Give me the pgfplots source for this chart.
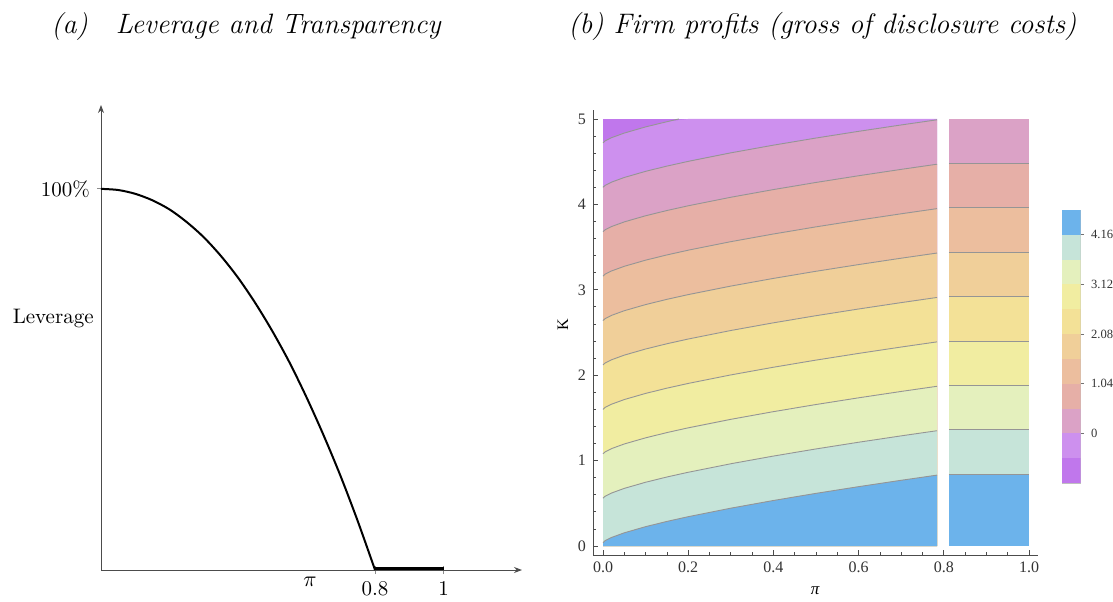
\documentclass[border=0pt]{standalone}
\usepackage{fontspec}
\usepackage{pgfplots}
\pgfplotsset{compat=1.18}
\usepackage{pgfplotstable}
\usetikzlibrary{arrows.meta}
\newfontfamily\tms{Liberation Serif}

\definecolor{c1}{HTML}{C077EC}
\definecolor{c2}{HTML}{CD90EE}
\definecolor{c3}{HTML}{DBA2C6}
\definecolor{c4}{HTML}{E6AFA7}
\definecolor{c5}{HTML}{ECBE9E}
\definecolor{c6}{HTML}{F0CF99}
\definecolor{c7}{HTML}{F3E197}
\definecolor{c8}{HTML}{F1EDA1}
\definecolor{c9}{HTML}{E4F0BD}
\definecolor{c10}{HTML}{C6E4D9}
\definecolor{c11}{HTML}{6CB3EB}
\definecolor{cline}{HTML}{959595}

% shape of the contour lines (shift of K along pi)
\pgfplotstableread{
p g
0 0
0.005 0.0230
0.02 0.0606
0.05 0.1151
0.1 0.1869
0.15 0.2483
0.2 0.3037
0.3 0.4034
0.4 0.4934
0.5 0.5768
0.6 0.6553
0.7 0.7300
0.784 0.7903
}\contourshape

\begin{document}
\begin{tikzpicture}
\useasboundingbox (0,0) rectangle (556.5pt,300.5pt);

% ---------------- titles
\node[anchor=base west, inner sep=0pt, font=\fontsize{14}{16}\selectfont\itshape] at (25.5pt,283.6pt) {(a)\quad Leverage and Transparency};
\node[anchor=base west, inner sep=0pt, font=\fontsize{14.1}{16}\selectfont\itshape] at (284pt,283.6pt) {(b) Firm profits (gross of disclosure costs)};

% ---------------- panel (a)
\begin{axis}[
  at={(50.5pt,15.5pt)}, anchor=south west, scale only axis,
  width=210.5pt, height=232.5pt,
  xmin=0, xmax=1.229, ymin=0, ymax=1.22,
  axis lines=left,
  axis line style={black!70, line width=0.5pt, -{Stealth[length=4pt,width=3pt]}},
  xtick={0.8,1}, xticklabels={0.8,1},
  extra x ticks={0.61}, extra x tick labels={$\pi$},
  extra x tick style={major tick length=0pt},
  ytick={1}, yticklabels={100\%},
  tick align=center, major tick length=4pt,
  tick style={black!45, line width=0.5pt},
  ticklabel style={font=\fontsize{10.5}{12}\selectfont},
  clip=false,
]
\addplot[black, line width=1pt, smooth] coordinates {
(0,1) (0.05,0.997) (0.1,0.987) (0.15,0.970) (0.2,0.946) (0.25,0.913)
(0.3,0.873) (0.35,0.824) (0.4,0.767) (0.45,0.701) (0.5,0.627)
(0.55,0.545) (0.6,0.453) (0.65,0.353) (0.7,0.245) (0.75,0.127) (0.8,0)
};
\addplot[black, line width=1.4pt] coordinates {(0.8,0.004) (1,0.004)};
\node[anchor=east, inner sep=0pt, font=\fontsize{10.5}{12}\selectfont] at (axis cs:0,0.659) [xshift=-3.5pt] {Leverage};
\end{axis}

% ---------------- panel (b)
\begin{axis}[
  at={(296.5pt,23pt)}, anchor=south west, scale only axis,
  width=222.5pt, height=222.5pt,
  xmin=-0.0235, xmax=1.0211, ymin=-0.105, ymax=5.105,
  axis x line*=bottom, axis y line*=left,
  axis line style={black!70, line width=0.5pt},
  tick align=inside,
  xtick={0,0.2,0.4,0.6,0.8,1}, xticklabels={0.0,0.2,0.4,0.6,0.8,1.0},
  minor x tick num=3,
  ytick={0,1,2,3,4,5}, yticklabels={0,1,2,3,4,5},
  minor y tick num=4,
  major tick length=2.6pt, minor tick length=1.5pt,
  tick style={black!70, line width=0.4pt},
  ticklabel style={font=\tms\fontsize{8}{9}\selectfont, text=black!80},
]
% left region (pi < 0.8): layered fills
\addplot[fill=c1, draw=none] coordinates {(0,0) (0.784,0) (0.784,5) (0,5)};
\addplot[fill=c2, draw=none] table[x=p, y expr={min(\thisrow{g}+4.72,5)}] {\contourshape} \closedcycle;
\addplot[fill=c3, draw=none] table[x=p, y expr={\thisrow{g}+4.20}] {\contourshape} \closedcycle;
\addplot[fill=c4, draw=none] table[x=p, y expr={\thisrow{g}+3.68}] {\contourshape} \closedcycle;
\addplot[fill=c5, draw=none] table[x=p, y expr={\thisrow{g}+3.16}] {\contourshape} \closedcycle;
\addplot[fill=c6, draw=none] table[x=p, y expr={\thisrow{g}+2.64}] {\contourshape} \closedcycle;
\addplot[fill=c7, draw=none] table[x=p, y expr={\thisrow{g}+2.12}] {\contourshape} \closedcycle;
\addplot[fill=c8, draw=none] table[x=p, y expr={\thisrow{g}+1.60}] {\contourshape} \closedcycle;
\addplot[fill=c9, draw=none] table[x=p, y expr={\thisrow{g}+1.08}] {\contourshape} \closedcycle;
\addplot[fill=c10, draw=none] table[x=p, y expr={\thisrow{g}+0.56}] {\contourshape} \closedcycle;
\addplot[fill=c11, draw=none] table[x=p, y expr={\thisrow{g}+0.04}] {\contourshape} \closedcycle;
% contour lines
\addplot[cline, line width=0.45pt] coordinates {(0,4.72) (0.005,4.743) (0.02,4.781) (0.05,4.835) (0.1,4.907) (0.15,4.968) (0.178,5)};
\addplot[cline, line width=0.45pt] table[x=p, y expr={\thisrow{g}+4.20}] {\contourshape};
\addplot[cline, line width=0.45pt] table[x=p, y expr={\thisrow{g}+3.68}] {\contourshape};
\addplot[cline, line width=0.45pt] table[x=p, y expr={\thisrow{g}+3.16}] {\contourshape};
\addplot[cline, line width=0.45pt] table[x=p, y expr={\thisrow{g}+2.64}] {\contourshape};
\addplot[cline, line width=0.45pt] table[x=p, y expr={\thisrow{g}+2.12}] {\contourshape};
\addplot[cline, line width=0.45pt] table[x=p, y expr={\thisrow{g}+1.60}] {\contourshape};
\addplot[cline, line width=0.45pt] table[x=p, y expr={\thisrow{g}+1.08}] {\contourshape};
\addplot[cline, line width=0.45pt] table[x=p, y expr={\thisrow{g}+0.56}] {\contourshape};
\addplot[cline, line width=0.45pt] table[x=p, y expr={\thisrow{g}+0.04}] {\contourshape};
% right region (pi > 0.8): flat bands
\addplot[fill=c3, draw=none] coordinates {(0.812,0) (1,0) (1,5) (0.812,5)};
\addplot[fill=c4, draw=none] coordinates {(0.812,0) (1,0) (1,4.48) (0.812,4.48)};
\addplot[fill=c5, draw=none] coordinates {(0.812,0) (1,0) (1,3.96) (0.812,3.96)};
\addplot[fill=c6, draw=none] coordinates {(0.812,0) (1,0) (1,3.44) (0.812,3.44)};
\addplot[fill=c7, draw=none] coordinates {(0.812,0) (1,0) (1,2.92) (0.812,2.92)};
\addplot[fill=c8, draw=none] coordinates {(0.812,0) (1,0) (1,2.40) (0.812,2.40)};
\addplot[fill=c9, draw=none] coordinates {(0.812,0) (1,0) (1,1.88) (0.812,1.88)};
\addplot[fill=c10, draw=none] coordinates {(0.812,0) (1,0) (1,1.36) (0.812,1.36)};
\addplot[fill=c11, draw=none] coordinates {(0.812,0) (1,0) (1,0.84) (0.812,0.84)};
\addplot[cline, line width=0.45pt] coordinates {(0.812,4.48) (1,4.48)};
\addplot[cline, line width=0.45pt] coordinates {(0.812,3.96) (1,3.96)};
\addplot[cline, line width=0.45pt] coordinates {(0.812,3.44) (1,3.44)};
\addplot[cline, line width=0.45pt] coordinates {(0.812,2.92) (1,2.92)};
\addplot[cline, line width=0.45pt] coordinates {(0.812,2.40) (1,2.40)};
\addplot[cline, line width=0.45pt] coordinates {(0.812,1.88) (1,1.88)};
\addplot[cline, line width=0.45pt] coordinates {(0.812,1.36) (1,1.36)};
\addplot[cline, line width=0.45pt] coordinates {(0.812,0.84) (1,0.84)};
\end{axis}

% axis labels of panel (b)
\node[rotate=90, inner sep=0pt, font=\tms\fontsize{8}{9}\selectfont] at (281.5pt,138pt) {K};
\node[inner sep=0pt, font=\tms\itshape\fontsize{8.5}{9}\selectfont] at (407.5pt,5pt) {π};

% ---------------- colour bar
\begin{axis}[
  at={(531pt,59pt)}, anchor=south west, scale only axis,
  width=9.25pt, height=136.5pt,
  xmin=0, xmax=1, ymin=-1.04, ymax=4.68,
  xtick=\empty,
  ytick={0,1.04,2.08,3.12,4.16}, yticklabels={0,1.04,2.08,3.12,4.16},
  ytick pos=right, yticklabel pos=right,
  tick align=outside, major tick length=1.8pt,
  tick style={black!55, line width=0.4pt},
  axis line style={black!25, line width=0.4pt},
  ticklabel style={font=\tms\fontsize{6.3}{7}\selectfont, text=black!80},
]
\addplot[fill=c1, draw=none] coordinates {(0,-1.04) (1,-1.04) (1,-0.52) (0,-0.52)};
\addplot[fill=c2, draw=none] coordinates {(0,-0.52) (1,-0.52) (1,0) (0,0)};
\addplot[fill=c3, draw=none] coordinates {(0,0) (1,0) (1,0.52) (0,0.52)};
\addplot[fill=c4, draw=none] coordinates {(0,0.52) (1,0.52) (1,1.04) (0,1.04)};
\addplot[fill=c5, draw=none] coordinates {(0,1.04) (1,1.04) (1,1.56) (0,1.56)};
\addplot[fill=c6, draw=none] coordinates {(0,1.56) (1,1.56) (1,2.08) (0,2.08)};
\addplot[fill=c7, draw=none] coordinates {(0,2.08) (1,2.08) (1,2.60) (0,2.60)};
\addplot[fill=c8, draw=none] coordinates {(0,2.60) (1,2.60) (1,3.12) (0,3.12)};
\addplot[fill=c9, draw=none] coordinates {(0,3.12) (1,3.12) (1,3.64) (0,3.64)};
\addplot[fill=c10, draw=none] coordinates {(0,3.64) (1,3.64) (1,4.16) (0,4.16)};
\addplot[fill=c11, draw=none] coordinates {(0,4.16) (1,4.16) (1,4.68) (0,4.68)};
\end{axis}
\end{tikzpicture}
\end{document}
